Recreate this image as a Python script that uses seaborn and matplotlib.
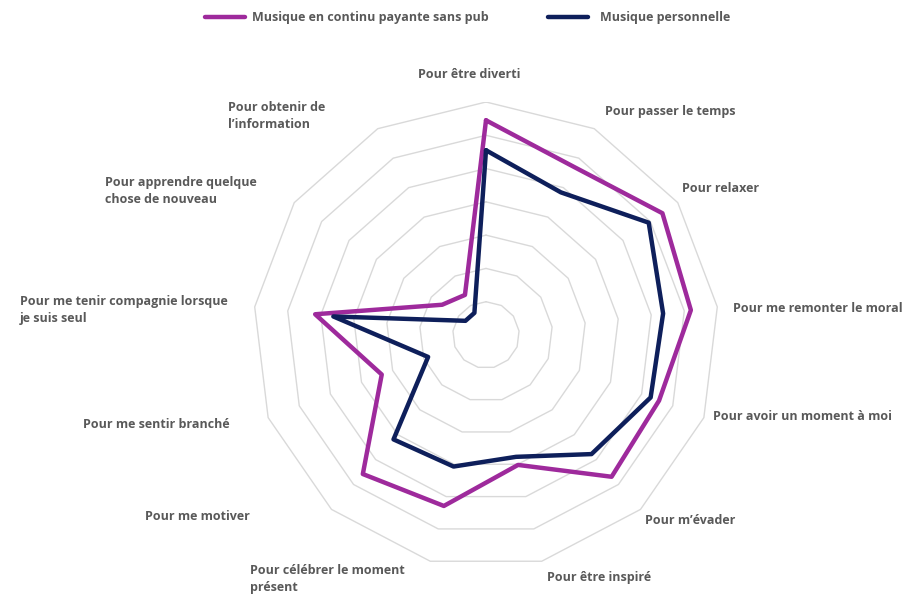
import numpy as np
import pandas as pd
import seaborn as sns
import matplotlib.pyplot as plt

sns.set_theme(style="white")
plt.rcParams["font.family"] = ["Open Sans", "DejaVu Sans"]

# Categories (clockwise from top)
categories = [
    "Pour être diverti",
    "Pour passer le temps",
    "Pour relaxer",
    "Pour me remonter le moral",
    "Pour avoir un moment à moi",
    "Pour m’évader",
    "Pour être inspiré",
    "Pour célébrer le moment\nprésent",
    "Pour me motiver",
    "Pour me sentir branché",
    "Pour me tenir compagnie lorsque\nje suis seul",
    "Pour apprendre quelque\nchose de nouveau",
    "Pour obtenir de\nl’information",
]
series_names = ["Musique en continu payante sans pub", "Musique personnelle"]
streaming_paid = [6.45, 5.7, 6.44, 6.2, 5.56, 5.69, 4.02, 5.29, 5.58, 3.35, 5.17, 1.6, 1.36]
personal_music = [5.55, 4.84, 5.94, 5.36, 5.29, 4.78, 3.77, 4.07, 4.19, 1.86, 4.62, 0.75, 0.75]
ring_levels = [1, 2, 3, 4, 5, 6, 7]

colors = {"Musique en continu payante sans pub": "#9E2A9C",
          "Musique personnelle": "#0E1F5B"}

n = len(categories)
angles = np.arange(n) * 2 * np.pi / n

rows = []
for name, vals in zip(series_names, [streaming_paid, personal_music]):
    for i in list(range(n)) + [0]:
        rows.append({"serie": name, "order": len(rows),
                     "x": vals[i] * np.sin(angles[i]),
                     "y": vals[i] * np.cos(angles[i])})
df = pd.DataFrame(rows)

W, H = 908, 595
fig = plt.figure(figsize=(W / 100, H / 100), dpi=100)
cx, cy, R = 486, 335, 233
ax = fig.add_axes([(cx - R) / W, (H - cy - R) / H, 2 * R / W, 2 * R / H])

# polygon grid rings
for lvl in ring_levels:
    ring_a = np.append(angles, angles[0])
    ax.plot(lvl * np.sin(ring_a), lvl * np.cos(ring_a), color="#D9D9D9", lw=1, zorder=1)

sns.lineplot(data=df, x="x", y="y", hue="serie", palette=colors, sort=False,
             estimator=None, units="serie", lw=3.2, legend=False, ax=ax, zorder=3)

ax.set_xlim(-7, 7)
ax.set_ylim(-7, 7)
ax.set_aspect("equal")
ax.axis("off")

# category labels (pixel positions, alignment)
label_layout = [
    (469, 75, "center"), (605, 111, "left"), (682, 188, "left"),
    (733, 308, "left"), (713, 416, "left"), (645, 520, "left"),
    (547, 577, "left"), (250, 579, "left"), (145, 516, "left"),
    (83, 425, "left"), (20, 310, "left"), (105, 191, "left"),
    (228, 116, "left"),
]
for text, (px, py, ha) in zip(categories, label_layout):
    fig.text(px / W, 1 - py / H, text, ha=ha, va="center", fontsize=9.0,
             fontweight="bold", color="#595959", linespacing=1.4)

# legend
legend_layout = [(205, 245, 252), (548, 588, 600)]
for name, (x0, x1, tx) in zip(series_names, legend_layout):
    fig.add_artist(plt.Line2D([x0 / W, x1 / W], [1 - 17 / H, 1 - 17 / H],
                              color=colors[name], lw=3.2, transform=fig.transFigure))
    fig.text(tx / W, 1 - 17 / H, name, ha="left", va="center", fontsize=9.0,
             fontweight="bold", color="#595959")

fig.savefig("out.png", dpi=100, facecolor="white")
